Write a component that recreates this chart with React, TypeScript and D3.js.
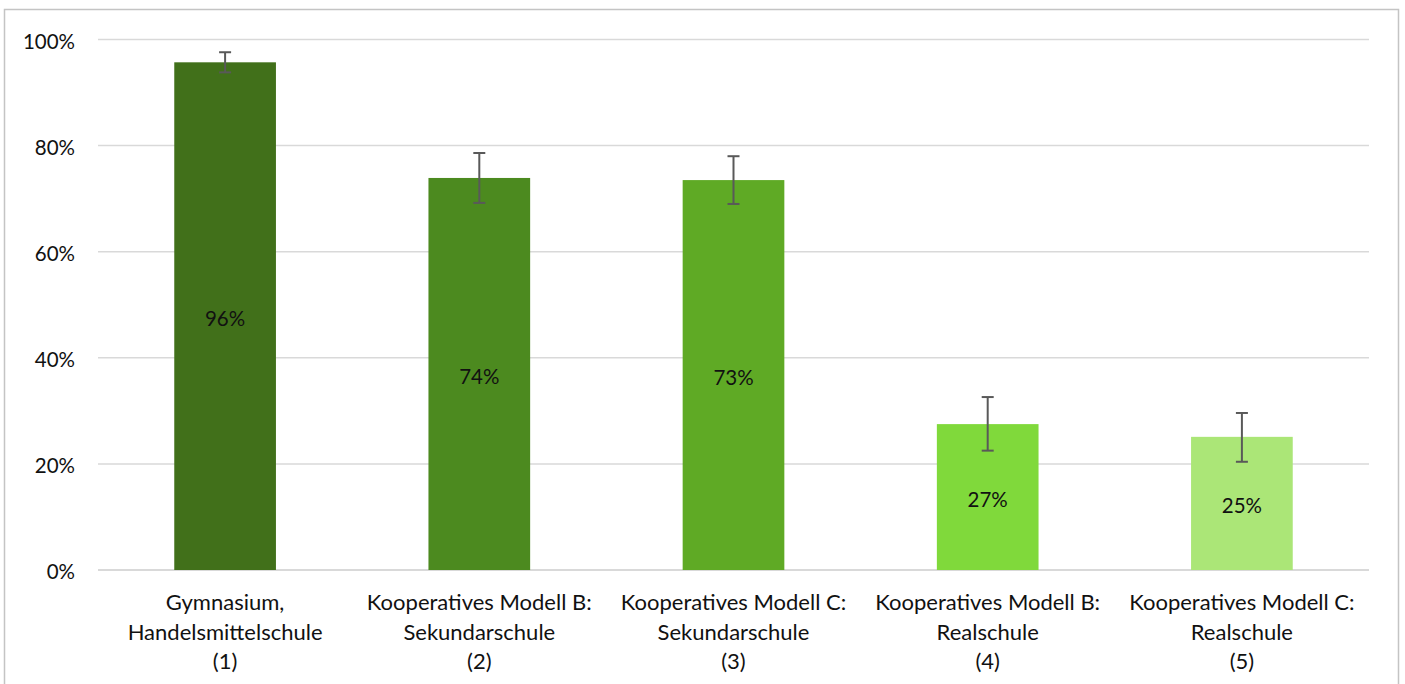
import React from "react";
import * as d3 from "d3";

const categories: string[][] = [
  ["Gymnasium,", "Handelsmittelschule", "(1)"],
  ["Kooperatives Modell B:", "Sekundarschule", "(2)"],
  ["Kooperatives Modell C:", "Sekundarschule", "(3)"],
  ["Kooperatives Modell B:", "Realschule", "(4)"],
  ["Kooperatives Modell C:", "Realschule", "(5)"],
];
const values = [0.957, 0.739, 0.735, 0.275, 0.251];
const errLow = [0.938, 0.692, 0.690, 0.225, 0.204];
const errHigh = [0.976, 0.786, 0.780, 0.326, 0.296];
const valueLabels = ["96%", "74%", "73%", "27%", "25%"];
const colors = ["#41701a", "#4c8a1f", "#5faa25", "#80d93b", "#abe677"];
const yTicks = [0, 0.2, 0.4, 0.6, 0.8, 1.0];

const W = 1405;
const H = 684;
const FONT = "Lato, 'Open Sans', sans-serif";

export default function App() {
  const x = d3
    .scaleBand<number>()
    .domain(d3.range(categories.length))
    .range([98, 1369])
    .paddingInner(0.6)
    .paddingOuter(0.3);
  const y = d3.scaleLinear().domain([0, 1]).range([570, 39.5]);
  const bw = x.bandwidth();
  const fmt = d3.format(".0%");

  return (
    <svg
      width={W}
      height={H}
      style={{ position: "absolute", left: 0, top: 0, background: "#fff" }}
      fontFamily={FONT}
    >
      <rect x={0} y={0} width={W} height={H} fill="#fff" />
      {/* outer border */}
      <path
        d={`M4.5,${H + 2} L4.5,9.5 L1398.5,9.5 L1398.5,${H + 2}`}
        fill="none"
        stroke="#c4c4c4"
        strokeWidth={1.5}
      />
      {/* gridlines */}
      {yTicks.map((t) => (
        <line
          key={t}
          x1={98}
          x2={1369}
          y1={y(t)}
          y2={y(t)}
          stroke="#d9d9d9"
          strokeWidth={t === 0 ? 2 : 1.5}
        />
      ))}
      {/* y labels */}
      {yTicks.map((t) => (
        <text
          key={"l" + t}
          x={75}
          y={y(t) + 1}
          textAnchor="end"
          dominantBaseline="central"
          fontSize={20.5}
          fill="#111"
        >
          {fmt(t)}
        </text>
      ))}
      {/* bars */}
      {values.map((v, i) => (
        <rect
          key={"b" + i}
          x={x(i)!}
          y={y(v)}
          width={bw}
          height={y(0) - y(v)}
          fill={colors[i]}
        />
      ))}
      {/* value labels */}
      {values.map((v, i) => (
        <text
          key={"v" + i}
          x={x(i)! + bw / 2}
          y={(y(v) + y(0)) / 2 + 2}
          textAnchor="middle"
          dominantBaseline="central"
          fontSize={20.5}
          fill="#111"
        >
          {valueLabels[i]}
        </text>
      ))}
      {/* error bars */}
      {values.map((v, i) => {
        const cx = x(i)! + bw / 2;
        return (
          <g key={"e" + i} stroke="#595959" strokeWidth={2}>
            <line x1={cx} x2={cx} y1={y(errHigh[i])} y2={y(errLow[i])} />
            <line x1={cx - 6} x2={cx + 6} y1={y(errHigh[i])} y2={y(errHigh[i])} />
            <line x1={cx - 6} x2={cx + 6} y1={y(errLow[i])} y2={y(errLow[i])} />
          </g>
        );
      })}
      {/* category labels */}
      {categories.map((lines, i) => (
        <text
          key={"c" + i}
          x={x(i)! + bw / 2}
          textAnchor="middle"
          fontSize={22}
          fill="#111"
        >
          {lines.map((ln, j) => (
            <tspan key={j} x={x(i)! + bw / 2} y={610 + j * 29.5}>
              {ln}
            </tspan>
          ))}
        </text>
      ))}
    </svg>
  );
}
